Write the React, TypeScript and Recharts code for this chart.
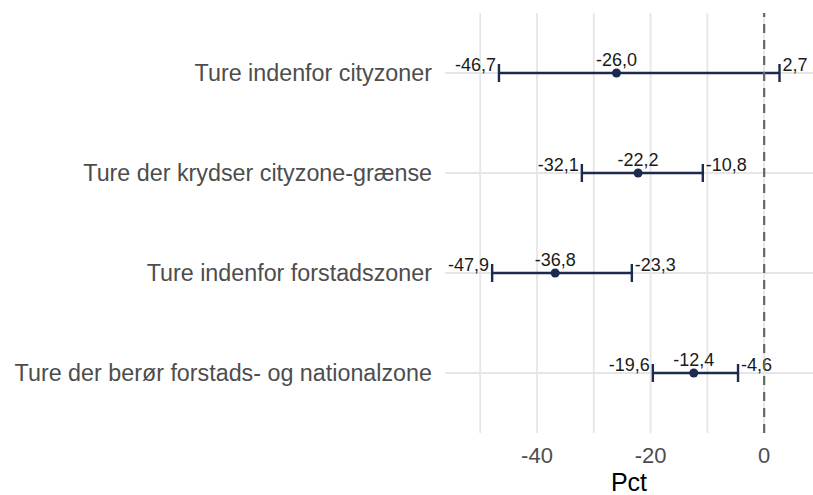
import React from "react";
import {
  ComposedChart,
  Bar,
  Line,
  XAxis,
  YAxis,
  CartesianGrid,
  ReferenceLine,
  LabelList,
} from "recharts";

// Ændring i pct. med konfidensinterval, pr. turtype
const kategorier = [
  "Ture indenfor cityzoner",
  "Ture der krydser cityzone-grænse",
  "Ture indenfor forstadszoner",
  "Ture der berør forstads- og nationalzone",
];
const estimat = [-26.0, -22.2, -36.8, -12.4];
const nedre = [-46.7, -32.1, -47.9, -19.6];
const oevre = [2.7, -10.8, -23.3, -4.6];

// gitterlinjer hver 10., tal kun ved hver 20.
const gitterTicks = [-50, -40, -30, -20, -10, 0];
const viste = [-40, -20, 0];

const NAVY = "#1b2a4e";
const GRID = "#e6e6e6";

const fmt = (v: number) => v.toFixed(1).replace(".", ",");

const data = kategorier.map((kat, i) => ({
  kat,
  est: estimat[i],
  lo: nedre[i],
  hi: oevre[i],
  interval: [nedre[i], oevre[i]],
}));

function Interval(props: any) {
  const { x, y, width, height, payload } = props;
  const cy = y + height / 2;
  const x1 = x;
  const x2 = x + width;
  return (
    <g>
      <line x1={x1} x2={x2} y1={cy} y2={cy} stroke={NAVY} strokeWidth={2.4} />
      <line x1={x1} x2={x1} y1={cy - 9} y2={cy + 9} stroke={NAVY} strokeWidth={2.4} />
      <line x1={x2} x2={x2} y1={cy - 9} y2={cy + 9} stroke={NAVY} strokeWidth={2.4} />
      <text x={x1 - 3} y={cy - 2} textAnchor="end" fontSize={18} fill="#1a1a1a">
        {fmt(payload.lo)}
      </text>
      <text x={x2 + 3} y={cy - 2} textAnchor="start" fontSize={18} fill="#1a1a1a">
        {fmt(payload.hi)}
      </text>
    </g>
  );
}

export default function App() {
  return (
    <div
      style={{
        position: "absolute",
        left: 0,
        top: 0,
        width: 813,
        height: 495,
        background: "#fff",
        fontFamily: "'Liberation Sans', Arial, sans-serif",
      }}
    >
      <ComposedChart
        width={813}
        height={495}
        data={data}
        layout="vertical"
        margin={{ top: 13, right: 0, bottom: 0, left: 0 }}
      >
        <CartesianGrid stroke={GRID} strokeWidth={1.8} syncWithTicks />
        <XAxis
          type="number"
          domain={[-56.2, 8.6]}
          allowDataOverflow
          ticks={gitterTicks}
          interval={0}
          tickFormatter={(v: number) => (viste.includes(v) ? String(v) : "")}
          axisLine={false}
          tickLine={false}
          tickSize={0}
          tickMargin={14}
          height={62}
          tick={{ fontSize: 22, fill: "#4d4d4d" }}
          label={{ value: "Pct", position: "insideBottom", offset: 4, fontSize: 25, fill: "#000" }}
        />
        <YAxis
          type="category"
          dataKey="kat"
          width={445}
          axisLine={false}
          tickLine={false}
          tickSize={0}
          tickMargin={13}
          padding={{ top: 10, bottom: 10 }}
          tick={{ fontSize: 23.3, fill: "#4d4d4d" }}
          interval={0}
        />
        <ReferenceLine x={0} stroke="#666" strokeWidth={2.2} strokeDasharray="9 7" />
        <Bar dataKey="interval" barSize={18} shape={<Interval />} isAnimationActive={false} />
        <Line
          dataKey="est"
          stroke="none"
          dot={{ r: 4.5, fill: NAVY, stroke: NAVY, strokeWidth: 0 }}
          activeDot={false}
          isAnimationActive={false}
        >
          <LabelList
            dataKey="est"
            position="top"
            offset={7}
            fontSize={18}
            fill="#1a1a1a"
            formatter={(v: any) => fmt(Number(v))}
          />
        </Line>
      </ComposedChart>
    </div>
  );
}
